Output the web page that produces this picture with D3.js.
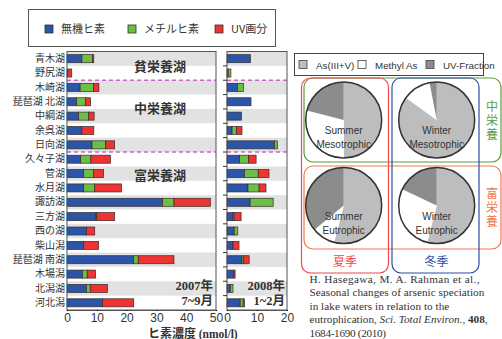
<!DOCTYPE html>
<html><head><meta charset="utf-8">
<script src="https://cdn.jsdelivr.net/npm/d3@7"></script>
<style>
body{margin:0;background:#fff;}
svg{display:block;}
text{fill:#333;}
</style></head><body>
<svg id="c" width="502" height="339"></svg>
<script>
const lakes = ["青木湖","野尻湖","木崎湖","琵琶湖 北湖","中綱湖","余呉湖","日向湖","久々子湖","菅湖","水月湖","諏訪湖","三方湖","西の湖","柴山潟","琵琶湖 南湖","木場潟","北潟湖","河北潟"];
const seriesNames = ["無機ヒ素","メチルヒ素","UV画分"];
const summerInorganic = [5.0,0.3,4.4,3.2,3.9,5.0,8.4,4.6,5.6,5.6,32.0,9.7,6.5,5.6,22.4,5.2,6.5,11.9];
const summerMethyl    = [3.5,0,4.5,3.0,3.4,0,4.6,3.4,3.3,3.7,3.9,0.3,0,0,1.5,1.6,1.3,0];
const summerUV        = [0.5,1.3,1.8,1.7,1.8,4.0,3.0,6.6,3.4,9.0,12.2,6.0,2.8,5.0,12.0,2.8,5.8,10.5];
const winterInorganic = [7.8,0.4,3.5,8.0,4.8,1.7,15.8,4.2,5.8,7.0,7.7,2.0,2.4,2.0,5.0,2.3,1.1,4.4];
const winterMethyl    = [0,0.9,2.0,0,0,1.5,1.0,3.0,4.6,3.7,7.7,0.4,1.2,0,0.6,0,0.9,1.0];
const winterUV        = [0,0,0,0,0,1.8,0,2.5,3.6,2.3,0,2.3,0,2.0,1.8,0.4,0,0.4];
const summerTicks = [0,10,20,30,40,50];
const winterTicks = [0,10,20];
const groupLabels = ["貧栄養湖","中栄養湖","富栄養湖"];
const groupRows = [1.05,4.0,8.65];
const dividerAfter = [1,6];
const pieSeries = ["As(III+V)","Methyl As","UV-Fraction"];
const pieSummerMeso = [50,29,21];
const pieWinterMeso = [85,12,3];
const pieSummerEutro = [54,10,36];
const pieWinterEutro = [54,28,18];
const citationLines = [
  [["H. Hasegawa, M. A. Rahman et al.,",""]],
  [["Seasonal changes of arsenic speciation",""]],
  [["in lake waters in relation to the",""]],
  [["eutrophication, ",""],["Sci. Total Environ.","i"],[", ",""],["408","b"],[",",""]],
  [["1684-1690 (2010)",""]]
];
const citationWidths = [170,175,140,178,75];

const svg = d3.select("#c");
const JP = "'Noto Sans CJK JP','Noto Sans',sans-serif";
const SANS = "'Liberation Sans',Arial,sans-serif";
const SERIF = "'Liberation Serif','Times New Roman','Noto Sans CJK JP',serif";
const colors = ["#2b55a8","#6cbf45","#ee3333"];

const y = d3.scaleBand().domain(lakes).range([51.5,310]).paddingInner(0.44).paddingOuter(0.22);
const yRow = d3.scaleBand().domain(lakes).range([51.5,310]);

function panel(x0, x1, maxV, ticks, a, b, c, showLabels){
  const x = d3.scaleLinear().domain([0,maxV]).range([x0,x1]);
  const g = svg.append("g");
  g.selectAll("rect.band").data(lakes.filter((d,i)=>i%2===0)).join("rect")
    .attr("x",x0).attr("width",x1-x0).attr("y",d=>yRow(d)).attr("height",yRow.bandwidth())
    .attr("fill","#e2e2e2");
  g.selectAll("line.div").data(dividerAfter).join("line")
    .attr("x1",x0).attr("x2",x1)
    .attr("y1",i=>yRow(lakes[i])+yRow.bandwidth()).attr("y2",i=>yRow(lakes[i])+yRow.bandwidth())
    .attr("stroke","#cc66cc").attr("stroke-width",1.4).attr("stroke-dasharray","4,3");
  const rows = lakes.map((l,i)=>({lake:l,v:[a[i],b[i],c[i]]}));
  rows.forEach(r=>{
    let acc=0;
    r.v.forEach((v,k)=>{
      if(v<=0) return;
      g.append("rect").attr("x",x(acc)).attr("width",x(acc+v)-x(acc))
        .attr("y",y(r.lake)).attr("height",y.bandwidth())
        .attr("fill",colors[k]).attr("stroke","#3a2a2a").attr("stroke-width",0.7);
      acc+=v;
    });
  });
  g.append("rect").attr("x",x0).attr("y",51.5).attr("width",x1-x0).attr("height",310-51.5)
    .attr("fill","none").attr("stroke","#555").attr("stroke-width",1);
  const ax = g.append("g").attr("transform","translate(0,310)")
    .call(d3.axisBottom(x).tickValues(ticks).tickSize(1).tickPadding(2).tickSizeOuter(0));
  ax.select(".domain").attr("stroke","#555");
  ax.selectAll("text").attr("font-family",SANS).attr("font-size",12).attr("fill","#333");
  if(!showLabels){
    g.selectAll("line.yt").data(lakes.slice(1)).join("line")
      .attr("x1",x0-4).attr("x2",x0).attr("y1",d=>yRow(d)).attr("y2",d=>yRow(d))
      .attr("stroke","#333");
  } else {
    const ay = g.append("g").attr("transform",`translate(${x0},0)`)
      .call(d3.axisLeft(yRow).tickSize(0).tickPadding(2));
    ay.select(".domain").remove();
    ay.selectAll("text").attr("font-family",JP).attr("font-size",10).attr("fill","#333");
  }
  return x;
}
panel(67,216,50,summerTicks,summerInorganic,summerMethyl,summerUV,true);
panel(227,287,20,winterTicks,winterInorganic,winterMethyl,winterUV,false);

svg.selectAll("text.grp").data(groupLabels).join("text")
  .attr("x",160).attr("y",(d,i)=>51.5+groupRows[i]*yRow.step()+4.5)
  .attr("text-anchor","middle").attr("font-family",JP).attr("font-weight","bold")
  .attr("font-size",13).attr("fill","#333").text(d=>d);

function season(xr, t1, t2){
  svg.append("text").attr("x",xr).attr("y",290).attr("text-anchor","end")
    .attr("font-family",SERIF).attr("font-weight","bold").attr("font-size",12.5).text(t1);
  svg.append("text").attr("x",xr).attr("y",305).attr("text-anchor","end")
    .attr("font-family",SERIF).attr("font-weight","bold").attr("font-size",12.5).text(t2);
}
season(213,"2007年","7~9月");
season(285,"2008年","1~2月");

const at = svg.append("text").attr("x",148).attr("y",337.5).attr("font-weight","bold");
at.append("tspan").attr("font-family",JP).attr("font-size",12).text("ヒ素濃度 ");
at.append("tspan").attr("font-family",SERIF).attr("font-size",11.5).text("(nmol/l)");

svg.append("rect").attr("x",28.5).attr("y",9.5).attr("width",247).attr("height",37)
  .attr("fill","#fff").attr("stroke","#555");
const lgx = [45,128,215];
seriesNames.forEach((s,i)=>{
  svg.append("rect").attr("x",lgx[i]).attr("y",25).attr("width",8).attr("height",8)
    .attr("fill",colors[i]).attr("stroke","#333").attr("stroke-width",0.8);
  svg.append("text").attr("x",lgx[i]+16).attr("y",33).attr("font-family",JP)
    .attr("font-size",11).text(s);
});

svg.append("rect").attr("x",294.5).attr("y",53.5).attr("width",189).attr("height",22)
  .attr("fill","#fff").attr("stroke","#444");
const pieColors = ["#bdbdbd","#ffffff","#8c8c8c"];
const plx = [299,358,426];
pieSeries.forEach((s,i)=>{
  svg.append("rect").attr("x",plx[i]).attr("y",60.5).attr("width",8).attr("height",8)
    .attr("fill",pieColors[i]).attr("stroke","#444").attr("stroke-width",0.8);
  svg.append("text").attr("x",plx[i]+17).attr("y",68.5).attr("font-family",SANS)
    .attr("font-size",9.8).text(s);
});

function rr(x,y,w,h,c){
  svg.append("rect").attr("x",x).attr("y",y).attr("width",w).attr("height",h)
    .attr("rx",9).attr("fill","none").attr("stroke",c).attr("stroke-width",1.2);
}
rr(304,78,197,84,"#5d9c3b");
rr(304,166,197,83,"#f07a48");
rr(301.5,78,87,195,"#ee4a4e");
rr(392,78,87,195,"#2f4fa6");

function vtext(x, cy, s, c){
  svg.append("text").attr("x",x).attr("y",cy).attr("text-anchor","middle")
    .attr("font-family",JP).attr("font-size",12)
    .style("writing-mode","vertical-rl").style("letter-spacing","2px")
    .style("fill",c).text(s);
}
vtext(492,121,"中栄養","#5d9c3b");
vtext(492,208.5,"富栄養","#f07a48");
svg.append("text").attr("x",345).attr("y",265.5).attr("text-anchor","middle").attr("font-family",JP)
  .attr("font-size",12).style("fill","#ee4a4e").text("夏季");
svg.append("text").attr("x",436.5).attr("y",265.5).attr("text-anchor","middle").attr("font-family",JP)
  .attr("font-size",12).style("fill","#2f4fa6").text("冬季");

const pie = d3.pie().sort(null).value(d=>d);
const arc = d3.arc().innerRadius(0).outerRadius(38);
function drawPie(cx, cy, data, l1, l2){
  const g = svg.append("g").attr("transform",`translate(${cx},${cy})`);
  g.selectAll("path").data(pie(data)).join("path").attr("d",arc)
    .attr("fill",(d,i)=>pieColors[i]);
  g.append("circle").attr("r",38).attr("fill","none").attr("stroke","#333").attr("stroke-width",1.5);
  g.append("text").attr("y",14).attr("text-anchor","middle").attr("font-family",SANS)
    .attr("font-size",10).text(l1);
  g.append("text").attr("y",28).attr("text-anchor","middle").attr("font-family",SANS)
    .attr("font-size",10).text(l2);
}
drawPie(343.7,120,pieSummerMeso,"Summer","Mesotrophic");
drawPie(436.7,120,pieWinterMeso,"Winter","Mesotrophic");
drawPie(343.7,205.5,pieSummerEutro,"Summer","Eutrophic");
drawPie(436.7,205.5,pieWinterEutro,"Winter","Eutrophic");

citationLines.forEach((ln,i)=>{
  const t = svg.append("text").attr("x",309.5).attr("y",282.5+i*13.5)
    .attr("font-family",SERIF).attr("font-size",11.2).attr("fill","#333");
  let n = 0;
  ln.forEach(p=>{
    const s = t.append("tspan").text(p[0]);
    n += p[0].length;
    if(p[1]==="i") s.attr("font-style","italic");
    if(p[1]==="b") s.attr("font-weight","bold");
  });
  const w = t.node().getComputedTextLength();
  const ls = Math.max(-0.3, Math.min(0.6, (citationWidths[i]-w)/Math.max(1,n-1)));
  t.style("letter-spacing", ls.toFixed(2)+"px");
});
</script></body></html>
